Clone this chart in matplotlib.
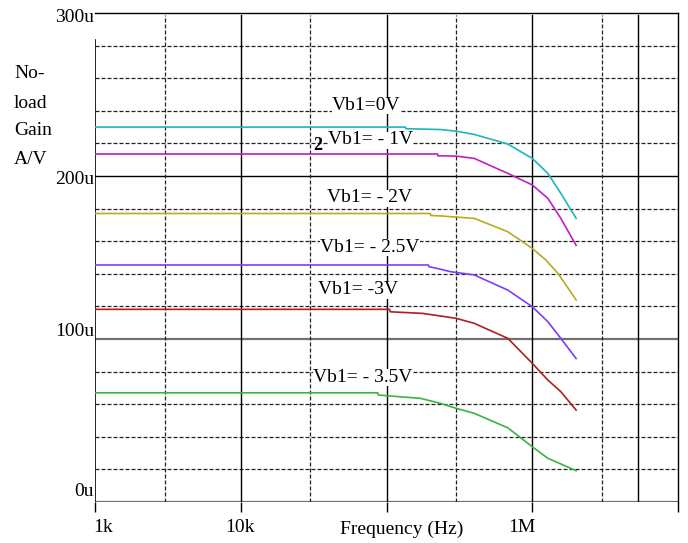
import matplotlib
matplotlib.use("Agg")
import matplotlib.pyplot as plt
import numpy as np

# ---------------- data (gain in uA/V, frequency in Hz) ----------------
cyan_f = [1e3, 1.35e5, 1.36e5, 2.35e5, 3.0e5, 4.0e5, 6.8e5, 1.0e6, 1.28e6, 1.57e6, 2.0e6]
cyan_v = [230, 230, 229, 228.5, 227.5, 225.5, 219.6, 210.8, 201.6, 189.4, 174]

mag_f = [1e3, 2.24e5, 2.25e5, 3.0e5, 4.0e5, 6.8e5, 1.0e6, 1.28e6, 1.57e6, 2.0e6]
mag_v = [213.5, 213.5, 212.4, 212.2, 210.8, 201.6, 194.5, 186.3, 174, 157.5]

olive_f = [1e3, 2.0e5, 2.01e5, 2.35e5, 4.0e5, 6.8e5, 1.0e6, 1.24e6, 1.5e6, 2.0e6]
olive_v = [177, 177, 175.8, 175.5, 174, 165.8, 155.6, 148.5, 140.3, 124]

purple_f = [1e3, 1.94e5, 1.95e5, 2.35e5, 2.75e5, 4.0e5, 6.8e5, 1.0e6, 1.28e6, 1.57e6, 2.0e6]
purple_v = [145.4, 145.4, 144.4, 142.8, 141.3, 139.3, 130, 119.8, 110.6, 100.4, 88]

red_f = [1e3, 1.05e5, 1.06e5, 1.77e5, 2.35e5, 3.0e5, 4.0e5, 6.8e5, 1.0e6, 1.28e6, 1.57e6, 2.0e6]
red_v = [118.2, 118.2, 116.7, 115.7, 114.1, 112.7, 109.6, 100.4, 85.1, 74.8, 67.7, 56.4]

green_f = [1e3, 8.7e4, 8.8e4, 1.71e5, 2.35e5, 3.0e5, 4.0e5, 6.8e5, 1.0e6, 1.28e6, 2.0e6]
green_v = [67, 67, 65.6, 63.6, 60.5, 57.5, 54.4, 45.5, 33.9, 26.8, 19.2]

series_labels = ["Vb1=0V", "Vb1= - 1V", "Vb1= - 2V", "Vb1= - 2.5V", "Vb1= -3V", "Vb1= - 3.5V"]
x_tick_labels = ["1k", "10k", "1M"]
y_tick_labels = ["0u", "100u", "200u", "300u"]
ylabel_lines = ["No-", "load", "Gain", "A/V"]
xlabel = "Frequency (Hz)"

# ---------------- figure ----------------
W, H = 688, 543
fig = plt.figure(figsize=(W / 100, H / 100), dpi=100)
plt.rcParams['font.family'] = ['Liberation Serif', 'DejaVu Serif']

L, R, T, B = 95, 678, 13, 502
ax = fig.add_axes([L / W, 1 - B / H, (R - L) / W, (B - T) / H])
ax.set_xscale('log')
ax.set_xlim(1e3, 1e7)
ax.set_ylim(0, 300)


def px(x, y):
    return x / W, 1 - y / H


# grid
dash = (0, (3.2, 1.6))
for v in [20, 40, 60, 80, 120, 140, 160, 180, 220, 240, 260, 280]:
    ax.axhline(v, color='#222222', lw=0.9, ls=dash, zorder=1)
ax.axhline(100, color='#707070', lw=1.6, zorder=1)
ax.axhline(0, color='#707070', lw=1.6, zorder=1)
ax.axhline(200, color='black', lw=1.0, zorder=1)
for f in [3e3, 3e4, 3e5, 3e6]:
    ax.axvline(f, color='#222222', lw=0.9, ls=dash, ymax=0.995, zorder=1)
for f in [1e4, 1e5, 1e6, 5.3e6]:
    ax.axvline(f, color='black', lw=1.0, ymax=0.995, zorder=1)
ax.axvline(1e3, color='black', lw=1.2, ymax=0.945, zorder=1)

for s in ['left', 'bottom']:
    ax.spines[s].set_visible(False)
ax.spines['top'].set_linewidth(1.0)
ax.spines['right'].set_linewidth(1.0)

ax.set_xticks([1e3, 1e4, 1e5, 1e6, 1e7])
ax.set_xticklabels([])
ax.xaxis.set_minor_locator(matplotlib.ticker.NullLocator())
ax.tick_params(axis='x', direction='out', length=7.5, width=1.0, color='black')
ax.set_yticks([])

# curves
curves = [
    (cyan_f, cyan_v, '#1eb6b6'),
    (mag_f, mag_v, '#c21ec2'),
    (olive_f, olive_v, '#b5ad1e'),
    (purple_f, purple_v, '#7a3dff'),
    (red_f, red_v, '#b01e1e'),
    (green_f, green_v, '#3cb33c'),
]
for f, v, c in curves:
    ax.plot(f, v, color=c, lw=1.2, zorder=3)

# curve labels
lab_pos = [(332, 105), (328, 140), (327, 198), (320, 247), (318, 290), (313, 377)]
for txt, (x, y) in zip(series_labels, lab_pos):
    fig.text(*px(x, y), txt, fontsize=14, ha='left', va='center', zorder=5,
             bbox=dict(facecolor='white', edgecolor='none', pad=0))
fig.text(*px(313, 146), "2", fontsize=13, ha='left', va='center', fontweight='bold')

# y tick labels
for txt, y in zip(y_tick_labels, [492, 332, 180, 17]):
    fig.text(*px(94, y), txt, fontsize=14, ha='right', va='center')

# x tick labels
fig.text(*px(93, 527), x_tick_labels[0], fontsize=14, ha='left', va='center')
fig.text(*px(240, 527), x_tick_labels[1], fontsize=14, ha='center', va='center')
fig.text(*px(522, 527), x_tick_labels[2], fontsize=14, ha='center', va='center')
fig.text(*px(402, 529), xlabel, fontsize=14, ha='center', va='center')

# y label
for txt, y in zip(ylabel_lines, [74, 103, 131, 160]):
    fig.text(*px(14, y), txt, fontsize=14, ha='left', va='center')

fig.savefig("out.png", dpi=100)
